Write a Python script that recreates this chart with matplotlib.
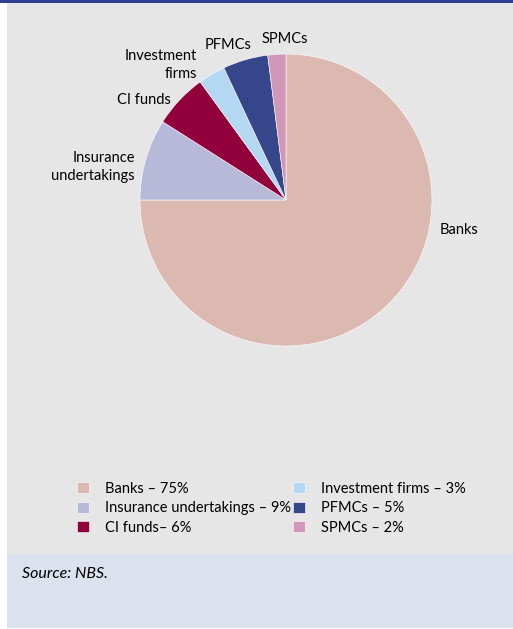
import matplotlib.pyplot as plt
from matplotlib.patches import Rectangle

sectors = ["Banks", "Insurance undertakings", "CI funds", "Investment firms", "PFMCs", "SPMCs"]
shares = [75, 9, 6, 3, 5, 2]
legend_labels = ["Banks – 75%", "Insurance undertakings – 9%", "CI funds– 6%",
                 "Investment firms – 3%", "PFMCs – 5%", "SPMCs – 2%"]
colors = ["#dbb8b0", "#b8b9d9", "#92003c", "#b5d8f2", "#35478a", "#d197b9"]

plt.rcParams['font.family'] = ['Lato', 'DejaVu Sans']

W, H = 513, 629
fig = plt.figure(figsize=(W / 100, H / 100), dpi=100)
fig.patch.set_facecolor("white")

# background panels (figure pixel coords)
bg = fig.add_axes([0, 0, 1, 1])
bg.set_xlim(0, W)
bg.set_ylim(H, 0)
bg.axis("off")
bg.add_patch(Rectangle((7, 2), W - 7, 552, color="#e6e6e6", lw=0))
bg.add_patch(Rectangle((7, 554), W - 7, 74, color="#dbe1ed", lw=0))
bg.add_patch(Rectangle((0, 0), W, 2.5, color="#2e3f8f", lw=0))
bg.text(22, 574, "Source: NBS.", fontsize=11.5, style="italic", va="center", ha="left")

# pie axes: centre at (286, 200) px, radius 146 px
cx, cy, r = 286, 200, 146
ax = fig.add_axes([0, 0, 1, 1])
ax.patch.set_alpha(0)

wedges, _ = ax.pie(shares, colors=colors, startangle=90, counterclock=False,
                   radius=1, wedgeprops=dict(edgecolor="white", linewidth=0.4))
ax.set_xlim(-cx / r, (W - cx) / r)
ax.set_ylim(-(H - cy) / r, cy / r)
ax.axis("off")

def px(x, y):
    return (x - cx) / r, (cy - y) / r

fs = 10.5
ax.text(*px(440, 230), "Banks", fontsize=fs, ha="left", va="center")
ax.text(*px(135, 167), "Insurance\nundertakings", fontsize=fs, ha="right", va="center",
        multialignment="right", linespacing=1.3)
ax.text(*px(171, 100), "CI funds", fontsize=fs, ha="right", va="center")
ax.text(*px(197, 65), "Investment\nfirms", fontsize=fs, ha="right", va="center",
        multialignment="right", linespacing=1.3)
ax.text(*px(228, 45), "PFMCs", fontsize=fs, ha="center", va="center")
ax.text(*px(285, 39), "SPMCs", fontsize=fs, ha="center", va="center")

fig.legend(wedges, legend_labels, ncol=2, loc="upper left",
           bbox_to_anchor=(71 / W, 1 - 476 / H), frameon=False, fontsize=fs,
           handlelength=0.8, handleheight=0.8, handletextpad=1.1,
           columnspacing=0.2, labelspacing=0.38, borderaxespad=0)

fig.savefig("out.png", dpi=100)
